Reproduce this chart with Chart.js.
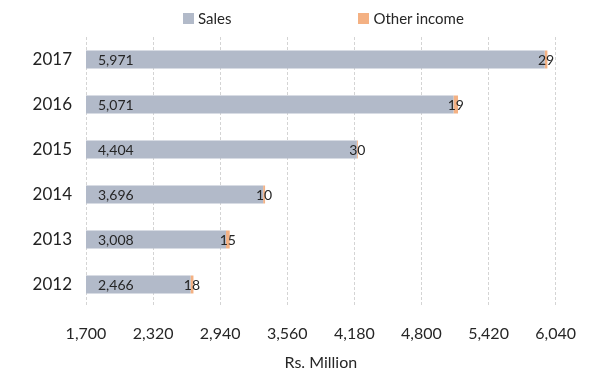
<!DOCTYPE html>
<html>
<head>
<meta charset="utf-8">
<script src="https://cdn.jsdelivr.net/npm/chart.js@4.4.0/dist/chart.umd.min.js"></script>
<style>
  html, body { margin: 0; padding: 0; background: #fff; }
  #wrap { position: relative; width: 593px; height: 373px; }
  #legend { position: absolute; top: 9px; left: 183px; display: flex; font-family: Lato, sans-serif; font-size: 15px; color: #262626; }
  #legend span.item { display: flex; align-items: center; margin-right: 127px; }
  #legend span.box { display: inline-block; width: 11px; height: 11px; margin-right: 4px; }
</style>
</head>
<body>
<div id="wrap">
  <canvas id="chart-bar" width="593" height="373"></canvas>
  <div id="legend"></div>
</div>
<script>
// categories, top to bottom
const years = ['2017', '2016', '2015', '2014', '2013', '2012'];
// bar lengths as drawn in the picture
const sales = [5939, 5096, 4203, 3337, 2994, 2666];
const otherIncome = [25, 42, 9, 18, 34, 27];
// numbers printed on the bars
const salesText = ['5,971', '5,071', '4,404', '3,696', '3,008', '2,466'];
const otherText = ['29', '19', '30', '10', '15', '18'];
const seriesNames = ['Sales', 'Other income'];
const seriesColors = ['#b2bac9', '#f4b183'];

const labelFont = '14px Lato, sans-serif';

const barLabels = {
    id: 'barLabels',
    afterDatasetsDraw(chart) {
        const ctx = chart.ctx;
        const left = chart.chartArea.left;
        ctx.save();
        ctx.font = labelFont;
        ctx.fillStyle = '#262626';
        ctx.textBaseline = 'middle';
        chart.getDatasetMeta(0).data.forEach((bar, i) => {
            ctx.textAlign = 'left';
            ctx.fillText(salesText[i], Math.max(bar.base, left) + 12, bar.y + 1);
        });
        chart.getDatasetMeta(1).data.forEach((bar, i) => {
            ctx.textAlign = 'center';
            ctx.fillText(otherText[i], (bar.x + bar.base) / 2, bar.y + 1);
        });
        ctx.restore();
    }
};

window.onload = function () {
    const legend = document.getElementById('legend');
    seriesNames.forEach((name, i) => {
        const item = document.createElement('span');
        item.className = 'item';
        item.innerHTML = '<span class="box" style="background:' + seriesColors[i] + '"></span>' + name;
        legend.appendChild(item);
    });

    new Chart(document.getElementById('chart-bar'), {
        type: 'bar',
        data: {
            labels: years,
            datasets: [
                { label: seriesNames[0], data: sales, backgroundColor: seriesColors[0] },
                { label: seriesNames[1], data: otherIncome, backgroundColor: seriesColors[1] }
            ]
        },
        options: {
            indexAxis: 'y',
            responsive: false,
            animation: false,
            categoryPercentage: 0.4,
            barPercentage: 1,
            layout: { padding: { top: 37, right: 31, bottom: 0, left: 0 } },
            plugins: {
                legend: { display: false },
                tooltip: { enabled: false }
            },
            scales: {
                x: {
                    stacked: true,
                    min: 1700,
                    max: 6040,
                    ticks: {
                        stepSize: 620,
                        padding: 17,
                        color: '#262626',
                        font: { family: 'Lato', size: 16 },
                        callback: v => v.toLocaleString('en-US')
                    },
                    grid: { color: '#d4d4d4', drawTicks: false },
                    border: { display: false, dash: [3, 2] },
                    title: {
                        display: true,
                        text: 'Rs. Million',
                        color: '#262626',
                        font: { family: 'Lato', size: 16 },
                        padding: { top: 0, bottom: 1 }
                    },
                    afterFit: s => { s.height = 66; }
                },
                y: {
                    stacked: true,
                    ticks: {
                        padding: 14,
                        color: '#222',
                        font: { family: 'Lato', size: 17 }
                    },
                    grid: { display: false, drawTicks: false },
                    border: { display: false },
                    afterFit: s => { s.width = 86; }
                }
            }
        },
        plugins: [barLabels]
    });
};
</script>
</body>
</html>
